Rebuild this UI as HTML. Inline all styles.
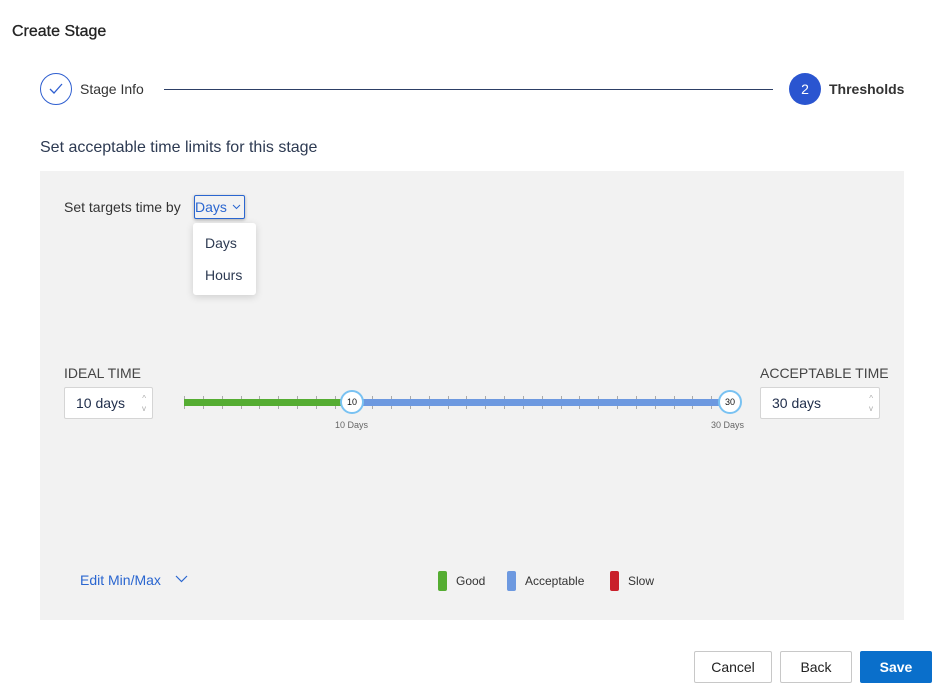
<!DOCTYPE html>
<html><head><meta charset="utf-8"><style>
*{box-sizing:border-box;margin:0;padding:0}
body{width:946px;height:696px;background:#fff;font-family:"Liberation Sans",sans-serif;position:relative;overflow:hidden;color:#222}
.a{position:absolute;white-space:nowrap}
.tick{position:absolute;top:396px;width:1px;height:13px;background:#aaa}
.btn{position:absolute;top:651px;height:32px;border:1px solid #c8c8c8;border-radius:2px;background:#fff;font-size:14px;color:#222;text-align:center;line-height:30px}
.inp{position:absolute;height:32px;background:#fff;border:1px solid #d5d5d5;border-radius:2px;font-size:14px;color:#1f2d4a;line-height:30px;padding-left:11px}
.sp{position:absolute;right:6px;font-size:8px;color:#aaa;line-height:8px}
.knob{position:absolute;width:24px;height:24px;border-radius:50%;background:#fff;border:2px solid #79c2f2;font-size:9px;text-align:center;line-height:20px;color:#111}
</style></head><body>
<div class="a" style="left:12px;top:23px;font-size:16px;color:#222;-webkit-text-stroke:0.3px #222">Create Stage</div>
<div class="a" style="left:40px;top:73px;width:32px;height:32px;border:1px solid #2f5fd0;border-radius:50%"></div>
<svg class="a" style="left:48px;top:82px" width="16" height="14"><polyline points="2,7 6,11 14,2" fill="none" stroke="#2f5fd0" stroke-width="1.3"/></svg>
<div class="a" style="left:80px;top:81px;font-size:14px;color:#333">Stage Info</div>
<div class="a" style="left:164px;top:89px;width:609px;height:1px;background:#2d3f66"></div>
<div class="a" style="left:789px;top:73px;width:32px;height:32px;border-radius:50%;background:#2a55d0;color:#fff;font-size:14px;text-align:center;line-height:32px">2</div>
<div class="a" style="left:829px;top:81px;font-size:14px;font-weight:bold;color:#333">Thresholds</div>
<div class="a" style="left:40px;top:139px;font-size:16px;color:#2d3a52">Set acceptable time limits for this stage</div>
<div class="a" style="left:40px;top:171px;width:864px;height:449px;background:#f2f2f2"></div>
<div class="a" style="left:64px;top:199px;font-size:14px;color:#333">Set targets time by</div>
<div class="a" style="left:194px;top:195px;width:51px;height:24px;border:1px solid #2a66d0;border-radius:2px;box-shadow:0 1px 3px rgba(0,0,0,.3)"></div>
<div class="a" style="left:195px;top:199px;font-size:14px;color:#2a66d0">Days</div>
<svg class="a" style="left:232px;top:204px" width="9" height="6"><polyline points="1,1 4.5,4.5 8,1" fill="none" stroke="#2a66d0"/></svg>
<div class="a" style="left:193px;top:223px;width:63px;height:72px;background:#fff;border-radius:3px;box-shadow:0 2px 8px rgba(0,0,0,.15)"></div>
<div class="a" style="left:205px;top:235px;font-size:14px;color:#2d3a52">Days</div>
<div class="a" style="left:205px;top:267px;font-size:14px;color:#2d3a52">Hours</div>
<div class="a" style="left:64px;top:365px;font-size:14px;color:#444">IDEAL TIME</div>
<div class="inp" style="left:64px;top:387px;width:89px">10 days<span class="sp" style="top:7px">^</span><span class="sp" style="top:17px">v</span></div>
<div class="a" style="left:760px;top:365px;font-size:14px;color:#444">ACCEPTABLE TIME</div>
<div class="inp" style="left:760px;top:387px;width:120px">30 days<span class="sp" style="top:7px">^</span><span class="sp" style="top:17px">v</span></div>
<div id="ticks"></div>
<script>
var h='';for(var i=0;i<=29;i++){h+='<div class="tick" style="left:'+(184+i*18.83).toFixed(1)+'px"></div>';}
document.getElementById('ticks').innerHTML=h;
</script>
<div class="a" style="left:184px;top:399px;width:168px;height:7px;background:#55ad32"></div>
<div class="a" style="left:352px;top:399px;width:378px;height:7px;background:#6d99e0"></div>
<div class="knob" style="left:340px;top:390px">10</div>
<div class="knob" style="left:718px;top:390px">30</div>
<div class="a" style="left:335px;top:420px;font-size:9px;color:#666">10 Days</div>
<div class="a" style="left:711px;top:420px;font-size:9px;color:#666">30 Days</div>
<div class="a" style="left:80px;top:572px;font-size:14px;color:#2a66d0">Edit Min/Max</div>
<svg class="a" style="left:175px;top:575px" width="13" height="8"><polyline points="1,1 6.5,6.5 12,1" fill="none" stroke="#2a66d0" stroke-width="1.2"/></svg>
<div class="a" style="left:438px;top:571px;width:9px;height:20px;border-radius:2px;background:#55ad32"></div>
<div class="a" style="left:456px;top:574px;font-size:12px;color:#333">Good</div>
<div class="a" style="left:507px;top:571px;width:9px;height:20px;border-radius:2px;background:#6d99e0"></div>
<div class="a" style="left:525px;top:574px;font-size:12px;color:#333">Acceptable</div>
<div class="a" style="left:610px;top:571px;width:9px;height:20px;border-radius:2px;background:#c9202a"></div>
<div class="a" style="left:628px;top:574px;font-size:12px;color:#333">Slow</div>
<div class="btn" style="left:694px;width:78px">Cancel</div>
<div class="btn" style="left:780px;width:72px">Back</div>
<div class="btn" style="left:860px;width:72px;background:#0a6fcb;border-color:#0a6fcb;color:#fff;font-weight:bold">Save</div>
</body></html>
